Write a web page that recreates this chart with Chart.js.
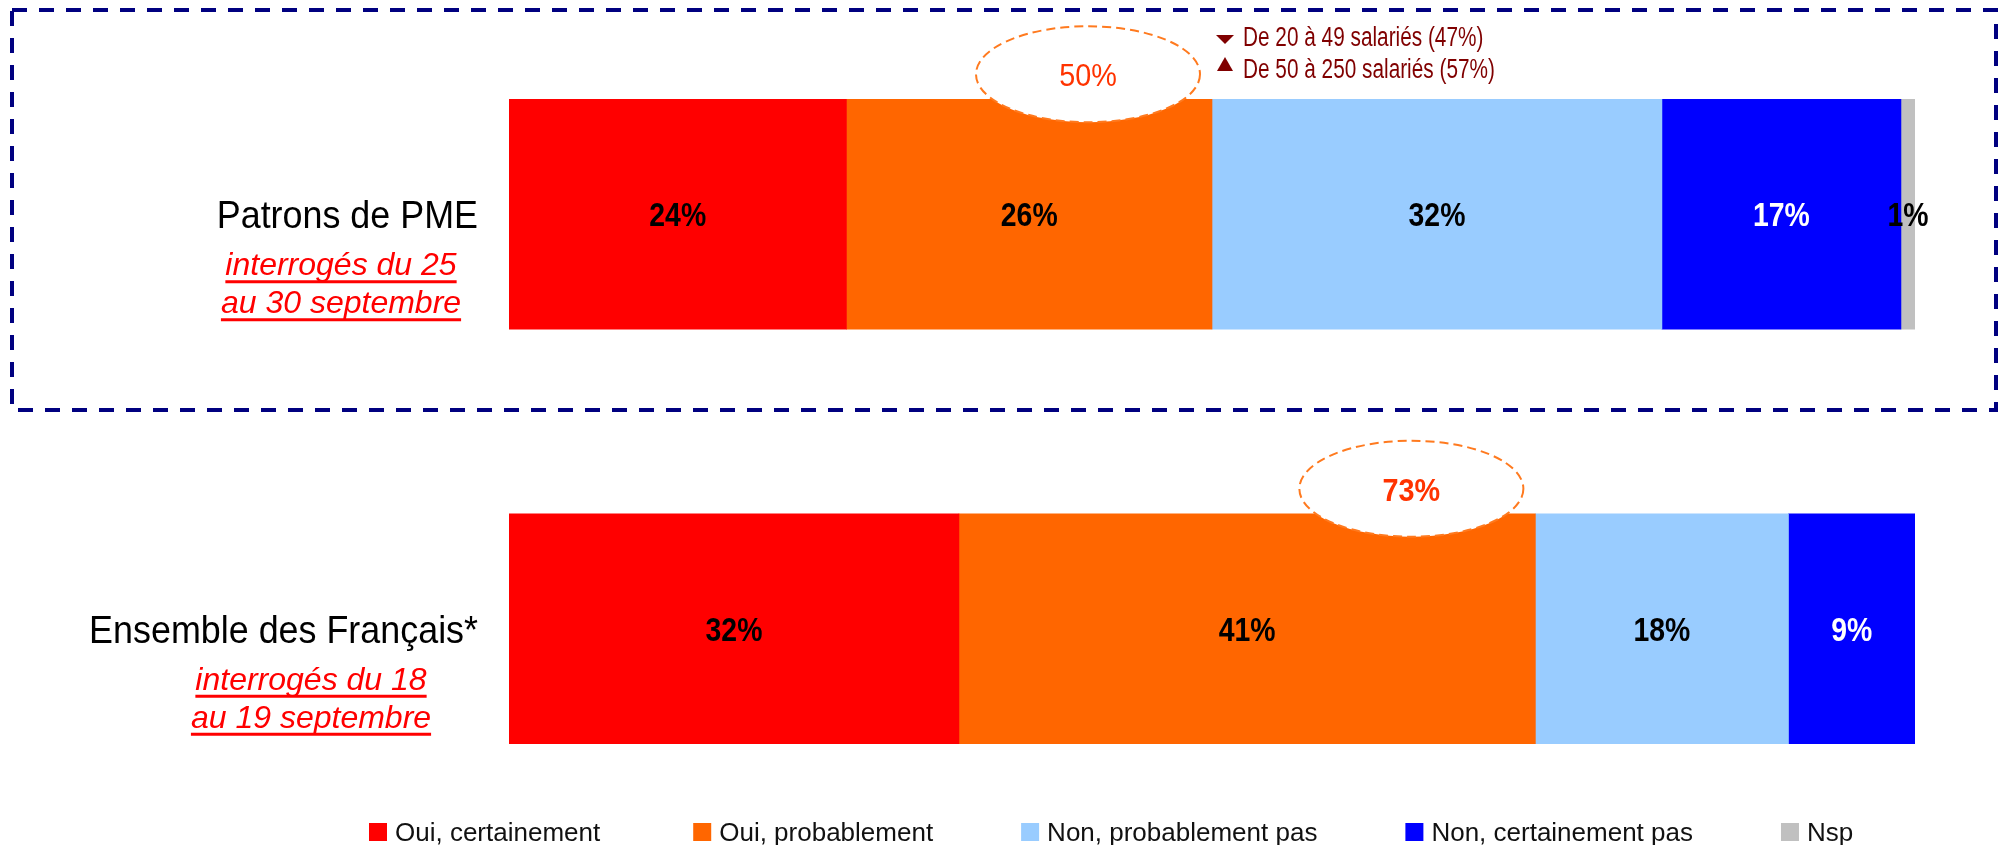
<!DOCTYPE html>
<html lang="fr">
<head>
<meta charset="utf-8">
<title>Patrons de PME / Ensemble des Français</title>
<script src="https://cdn.jsdelivr.net/npm/chart.js@4.4.1/dist/chart.umd.min.js"></script>
<style>
    html, body { margin: 0; padding: 0; background: #ffffff; }
    canvas { display: block; }
</style>
</head>
<body>
<canvas id="chart" width="2004" height="845"></canvas>
<script>
'use strict';

/* Data */
var categories = ['Patrons de PME', 'Ensemble des Français*'];
var surveyDates = [
    ['interrogés du 25', 'au 30 septembre'],
    ['interrogés du 18', 'au 19 septembre']
];
var seriesLabels = ['Oui, certainement', 'Oui, probablement', 'Non, probablement pas', 'Non, certainement pas', 'Nsp'];
var ouiCertainement = [24, 32];
var ouiProbablement = [26, 41];
var nonProbablementPas = [32, 18];
var nonCertainementPas = [17, 9];
var nsp = [1, 0];
var totalOui = [50, 73];
var sizeNotes = ['De 20 à 49 salariés (47%)', 'De 50 à 250 salariés (57%)'];
var sizeTrends = ['down', 'up'];

var seriesColors = ['#FF0000', '#FF6600', '#99CCFF', '#0000FF', '#C0C0C0'];
var labelColors = ['#000000', '#000000', '#000000', '#FFFFFF', '#000000'];
var FONT = '"Liberation Sans", Arial, sans-serif';

// text helper: optional horizontal squeeze to mimic the condensed face
function drawText(ctx, text, x, y, font, color, align, sx) {
    sx = sx || 1;
    ctx.save();
    ctx.font = font;
    ctx.fillStyle = color;
    ctx.textAlign = align || 'left';
    ctx.textBaseline = 'alphabetic';
    ctx.translate(x, y);
    ctx.scale(sx, 1);
    ctx.fillText(text, 0, 0);
    var w = ctx.measureText(text).width * sx;
    ctx.restore();
    return w;
}

var decorations = {
    id: 'decorations',
    afterDraw: function (chart) {
        var ctx = chart.ctx;
        var area = chart.chartArea;
        var xScale = chart.scales.x;

        // dashed frame around the PME row
        ctx.save();
        ctx.strokeStyle = '#000080';
        ctx.lineWidth = 4;
        ctx.setLineDash([15, 12]);
        ctx.strokeRect(12, 10, 1984, 400);
        ctx.restore();

        // value labels inside the segments
        chart.data.datasets.forEach(function (ds, di) {
            var meta = chart.getDatasetMeta(di);
            meta.data.forEach(function (bar, i) {
                var v = ds.data[i];
                if (!v) { return; }
                var cx = (bar.x + bar.base) / 2;
                drawText(ctx, v + '%', cx, bar.y + 12, 'bold 33px ' + FONT, labelColors[di], 'center', 0.86);
            });
        });

        // row labels on the left
        var subtitleX = [341, 311];
        var firstMeta = chart.getDatasetMeta(0);
        categories.forEach(function (cat, i) {
            var cy = firstMeta.data[i].y;
            drawText(ctx, cat, area.left - 31, cy + 14, '39px ' + FONT, '#000000', 'right', 0.92);
            surveyDates[i].forEach(function (line, k) {
                var by = cy + 61 + k * 38;
                var w = drawText(ctx, line, subtitleX[i], by, 'italic 32px ' + FONT, '#FF0000', 'center');
                ctx.fillStyle = '#FF0000';
                ctx.fillRect(subtitleX[i] - w / 2, by + 5, w, 3);
            });
        });

        // "total oui" callouts above the orange segment
        var orangeMeta = chart.getDatasetMeta(1);
        totalOui.forEach(function (t, i) {
            var bar = orangeMeta.data[i];
            var ex = xScale.getPixelForValue(t) - 124;
            var ey = bar.y - bar.height / 2 - 25;
            ctx.save();
            ctx.beginPath();
            ctx.ellipse(ex, ey, 112, 48, 0, 0, Math.PI * 2);
            ctx.fillStyle = '#FFFFFF';
            ctx.fill();
            ctx.setLineDash([9, 5]);
            ctx.lineWidth = 2;
            ctx.strokeStyle = '#FF7A1F';
            ctx.stroke();
            ctx.restore();
            drawText(ctx, t + '%', ex, ey + 12, (i === 1 ? 'bold ' : '') + '32px ' + FONT, '#FF3300', 'center', 0.9);
        });

        // company size notes next to the first callout
        var noteX = xScale.getPixelForValue(totalOui[0]) + 4;
        sizeNotes.forEach(function (note, k) {
            var base = 46 + k * 32;
            ctx.save();
            ctx.fillStyle = '#800000';
            ctx.beginPath();
            if (sizeTrends[k] === 'down') {
                ctx.moveTo(noteX, base - 11);
                ctx.lineTo(noteX + 18, base - 11);
                ctx.lineTo(noteX + 9, base - 2);
            } else {
                ctx.moveTo(noteX + 9, base - 21);
                ctx.lineTo(noteX + 17, base - 7);
                ctx.lineTo(noteX + 1, base - 7);
            }
            ctx.closePath();
            ctx.fill();
            ctx.restore();
            drawText(ctx, note, noteX + 27, base, '27px ' + FONT, '#800000', 'left', 0.77);
        });

        // legend
        var lx = 369;
        var ly = 841;
        seriesLabels.forEach(function (label, k) {
            ctx.fillStyle = seriesColors[k];
            ctx.fillRect(lx, ly - 18, 18, 18);
            var w = drawText(ctx, label, lx + 26, ly, '26px ' + FONT, '#111111', 'left');
            lx += 26 + w + (k === 0 ? 93 : 88);
        });
    }
};

var seriesValues = [ouiCertainement, ouiProbablement, nonProbablementPas, nonCertainementPas, nsp];

new Chart(document.getElementById('chart'), {
    type: 'bar',
    data: {
        labels: categories,
        datasets: seriesLabels.map(function (label, k) {
            return {
                label: label,
                data: seriesValues[k],
                backgroundColor: seriesColors[k],
                borderWidth: 0,
                barThickness: 230
            };
        })
    },
    options: {
        indexAxis: 'y',
        responsive: false,
        devicePixelRatio: 1,
        animation: false,
        layout: { padding: { left: 509, right: 89, top: 7, bottom: 9 } },
        scales: {
            x: { stacked: true, min: 0, max: 100, display: false },
            y: { stacked: true, display: false }
        },
        plugins: {
            legend: { display: false },
            tooltip: { enabled: false }
        }
    },
    plugins: [decorations]
});
</script>
</body>
</html>
